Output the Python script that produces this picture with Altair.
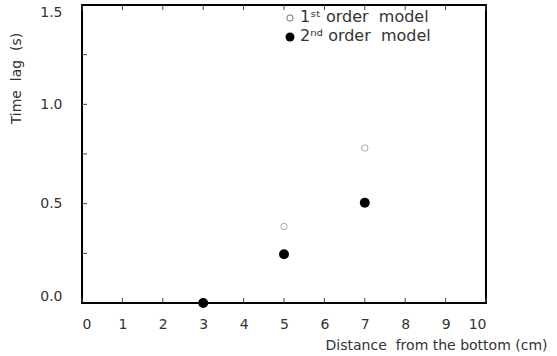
import altair as alt
import pandas as pd

NB = "\u00a0"

first_x = [5, 7]
first_y = [0.385, 0.78]
second_x = [3, 5, 7]
second_y = [0.0, 0.245, 0.505]
x_ticks = list(range(0, 11))
y_ticks = [0.0, 0.5, 1.0, 1.5]
legend_labels = ["1ˢᵗ order" + NB + NB + "model", "2ⁿᵈ order" + NB + NB + "model"]
x_title = "Distance" + NB + NB + "from the bottom (cm)"
y_title = "Time" + NB + NB + "lag" + NB + NB + "(s)"

FONT = "DejaVu Sans"
GREY = "#333333"

df1 = pd.DataFrame({"x": first_x, "y": first_y})
df2 = pd.DataFrame({"x": second_x, "y": second_y})
dft = pd.DataFrame({"x": x_ticks})
dfy = pd.DataFrame({"y": [0.25 * i for i in range(1, 6)]})

xs = alt.Scale(domain=[0, 10], nice=False, zero=False)
ys = alt.Scale(domain=[0, 1.5], nice=False, zero=False)

xaxis = alt.Axis(values=x_ticks, format="d", title=x_title,
                 labelFont=FONT, labelFontSize=14, labelColor=GREY, labelPadding=14,
                 ticks=False, domain=False, grid=False,
                 titleFont=FONT, titleFontSize=14, titleFontWeight="normal", titleColor=GREY,
                 titleAnchor="end", titleAlign="right", titleX=465, titleY=42, titleBaseline="middle")
yaxis = alt.Axis(values=y_ticks, format=".1f", title=y_title,
                 labelFont=FONT, labelFontSize=14, labelColor=GREY, labelPadding=20,
                 labelFlush=True,
                 ticks=False, domain=False, grid=False,
                 titleFont=FONT, titleFontSize=14, titleFontWeight="normal", titleColor=GREY,
                 titleAngle=270, titleAlign="center", titleBaseline="middle", titleX=-66, titleY=73)

base_x = alt.X("x:Q", scale=xs, axis=xaxis)
base_y = alt.Y("y:Q", scale=ys, axis=yaxis)

xtick = alt.Chart(dft).mark_rule(color="#444", strokeWidth=1).encode(
    x=alt.X("x:Q", scale=xs), y=alt.value(298), y2=alt.value(293))
xtick_top = alt.Chart(dft).mark_rule(color="#444", strokeWidth=1).encode(
    x=alt.X("x:Q", scale=xs), y=alt.value(0), y2=alt.value(5))
ytick = alt.Chart(dfy).mark_rule(color="#444", strokeWidth=1).encode(
    y=alt.Y("y:Q", scale=ys), x=alt.value(0), x2=alt.value(5))

open_pts = alt.Chart(df1).mark_point(shape="circle", filled=False, color="#888", size=40, strokeWidth=1).encode(
    x=base_x, y=base_y)
fill_pts = alt.Chart(df2).mark_point(shape="circle", filled=True, color="black", size=100, opacity=1).encode(
    x=base_x, y=base_y)

leg_open = alt.Chart(pd.DataFrame({"a": [0]})).mark_point(shape="circle", filled=False, color="#333", size=40, strokeWidth=1).encode(
    x=alt.value(208), y=alt.value(13))
leg_fill = alt.Chart(pd.DataFrame({"a": [0]})).mark_point(shape="circle", filled=True, color="black", size=80, opacity=1).encode(
    x=alt.value(208), y=alt.value(32))
leg_t1 = alt.Chart(pd.DataFrame({"t": [legend_labels[0]]})).mark_text(
    font=FONT, fontSize=16, color=GREY, align="left", baseline="middle").encode(
    x=alt.value(218), y=alt.value(12), text="t:N")
leg_t2 = alt.Chart(pd.DataFrame({"t": [legend_labels[1]]})).mark_text(
    font=FONT, fontSize=16, color=GREY, align="left", baseline="middle").encode(
    x=alt.value(218), y=alt.value(31), text="t:N")

chart = alt.layer(xtick, xtick_top, ytick, open_pts, fill_pts, leg_open, leg_fill, leg_t1, leg_t2).properties(
    width=404, height=298,
    background="white",
    autosize=alt.AutoSizeParams(type="none"),
    padding={"left": 82, "top": 5, "right": 71, "bottom": 53},
).configure_view(stroke="black", strokeWidth=2)

chart.save("out.html", embed_options={"renderer": "svg", "actions": False})
